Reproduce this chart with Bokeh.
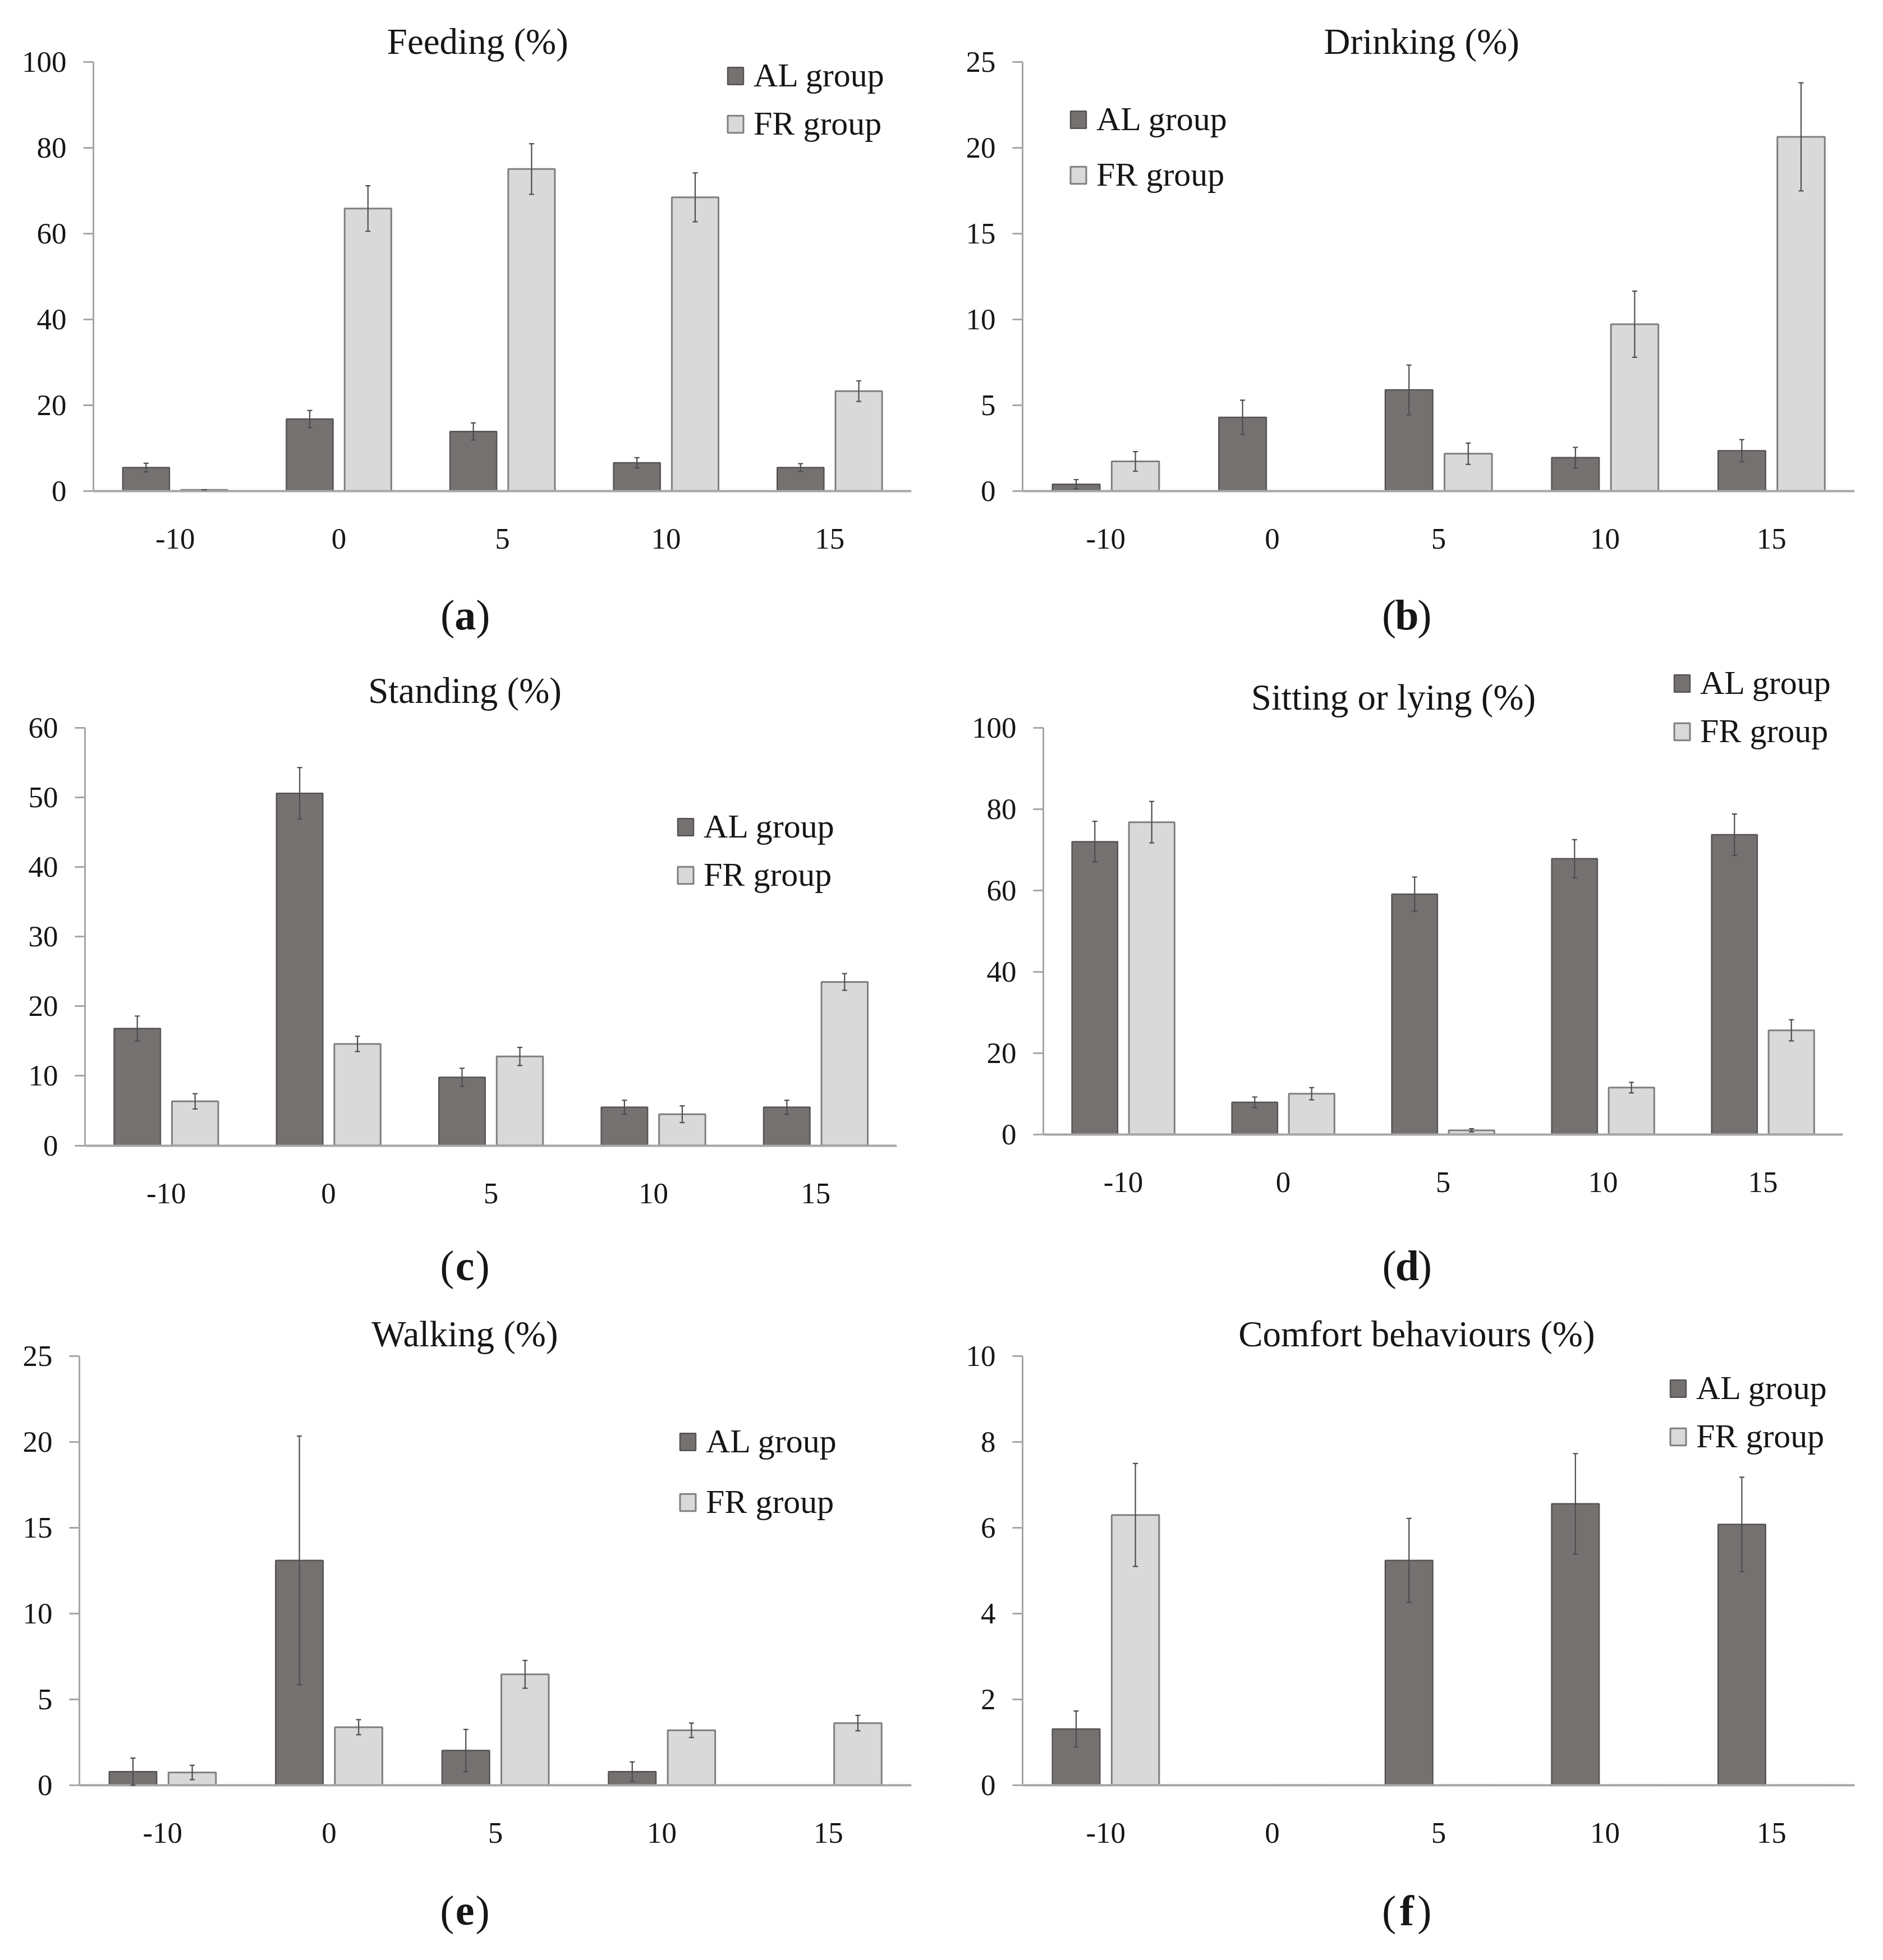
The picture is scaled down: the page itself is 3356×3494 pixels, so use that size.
from bokeh.plotting import figure
from bokeh.models import (FactorRange, ColumnDataSource, Whisker, TeeHead, Legend,
                          LegendItem, Label, FixedTicker, Range1d)
from bokeh.transform import dodge
from bokeh.layouts import column, row
from bokeh.embed import file_html
from bokeh.resources import INLINE

# ---------------- data ----------------
days = ["-10", "0", "5", "10", "15"]
groups = ["AL group", "FR group"]

feeding_al = [5.5, 16.8, 13.9, 6.6, 5.5]
feeding_al_err = [1.0, 2.0, 2.0, 1.2, 0.9]
feeding_fr = [0.3, 65.9, 75.1, 68.5, 23.3]
feeding_fr_err = [0.0, 5.3, 5.9, 5.7, 2.4]

drinking_al = [0.4, 4.3, 5.9, 1.95, 2.35]
drinking_al_err = [0.27, 1.0, 1.45, 0.6, 0.65]
drinking_fr = [1.73, 0.0, 2.18, 9.73, 20.65]
drinking_fr_err = [0.57, 0.0, 0.62, 1.93, 3.15]

standing_al = [16.8, 50.6, 9.8, 5.5, 5.5]
standing_al_err = [1.8, 3.7, 1.3, 1.0, 1.0]
standing_fr = [6.35, 14.6, 12.8, 4.5, 23.5]
standing_fr_err = [1.1, 1.1, 1.3, 1.2, 1.2]

sitting_al = [72.0, 7.9, 59.1, 67.8, 73.7]
sitting_al_err = [5.0, 1.3, 4.2, 4.7, 5.1]
sitting_fr = [76.8, 10.0, 1.0, 11.5, 25.6]
sitting_fr_err = [5.1, 1.5, 0.4, 1.3, 2.6]

walking_al = [0.79, 13.1, 2.02, 0.79, 0.0]
walking_al_err = [0.79, 7.25, 1.23, 0.57, 0.0]
walking_fr = [0.74, 3.38, 6.46, 3.2, 3.62]
walking_fr_err = [0.42, 0.44, 0.81, 0.42, 0.45]

comfort_al = [1.31, 0.0, 5.24, 6.56, 6.08]
comfort_al_err = [0.42, 0.0, 0.98, 1.17, 1.1]
comfort_fr = [6.3, 0.0, 0.0, 0.0, 0.0]
comfort_fr_err = [1.2, 0.0, 0.0, 0.0, 0.0]

titles = ["Feeding (%)", "Drinking (%)", "Standing (%)", "Sitting or lying (%)",
          "Walking (%)", "Comfort behaviours (%)"]
panel_letters = ["a", "b", "c", "d", "e", "f"]
y_max = [100, 25, 60, 100, 25, 10]
y_step = [20, 5, 10, 20, 5, 2]

# ---------------- styling / layout ----------------
S = 2.209
FONT = "Liberation Serif"
AL_FILL, AL_LINE = "#767171", "#575353"
FR_FILL, FR_LINE = "#d9d9d9", "#7f7f7f"
AXIS_COL = "#a6a6a6"
ERR_COL = "#4d4d4d"
TXT = "#161616"

# geometry in reference-scale units (relative to the cell)
geo = [
    dict(cw=756, ch=525, left=75, right=735, top=50, zero=396, tx=385, ty=33, lx=375, ly=496,
         legx=585, leg1=61, leg2=100),
    dict(cw=756, ch=525, left=69, right=740, top=50, zero=396, tx=391, ty=33, lx=379, ly=496,
         legx=106, leg1=96, leg2=141),
    dict(cw=756, ch=525, left=68.5, right=723.5, top=62, zero=399, tx=375, ty=32, lx=375, ly=496,
         legx=545, leg1=142, leg2=181),
    dict(cw=756, ch=525, left=85.5, right=730.5, top=62, zero=390, tx=368, ty=37, lx=379, ly=496,
         legx=593, leg1=26, leg2=65),
    dict(cw=756, ch=524, left=64, right=735, top=44, zero=390, tx=375, ty=26, lx=375, ly=491,
         legx=547, leg1=113, leg2=162),
    dict(cw=756, ch=524, left=69, right=740, top=44, zero=390, tx=387, ty=26, lx=379, ly=491,
         legx=590, leg1=70, leg2=109),
]

series = [
    (feeding_al, feeding_al_err, feeding_fr, feeding_fr_err),
    (drinking_al, drinking_al_err, drinking_fr, drinking_fr_err),
    (standing_al, standing_al_err, standing_fr, standing_fr_err),
    (sitting_al, sitting_al_err, sitting_fr, sitting_fr_err),
    (walking_al, walking_al_err, walking_fr, walking_fr_err),
    (comfort_al, comfort_al_err, comfort_fr, comfort_fr_err),
]

LEG_ITEM_H = 69
OFF = 0.178
BW = 0.285
NAN = float("nan")


def lo_hi(vals, errs):
    lo = [v - e if (v > 0 or e > 0) else NAN for v, e in zip(vals, errs)]
    hi = [v + e if (v > 0 or e > 0) else NAN for v, e in zip(vals, errs)]
    return lo, hi


def make_panel(i):
    g = geo[i]
    al, al_e, fr, fr_e = series[i]
    W = round(g["cw"] * S)
    H = round(g["ch"] * S)
    fl = round(g["left"] * S)
    frr = round(g["right"] * S)
    ymax = y_max[i]
    span = g["zero"] - g["top"]
    y_end = ymax * g["zero"] / span
    y_lo = -ymax * (g["ch"] - g["zero"]) / span

    p = figure(x_range=FactorRange(factors=days, range_padding=0),
               y_range=Range1d(y_lo, y_end),
               frame_width=frr - fl, frame_height=H,
               min_border_left=fl, min_border_right=W - frr,
               min_border_top=0, min_border_bottom=0,
               output_backend="svg", toolbar_location=None)
    p.outline_line_color = None
    p.xgrid.visible = False
    p.ygrid.visible = False
    p.background_fill_color = "white"
    p.border_fill_color = "white"

    al_lo, al_hi = lo_hi(al, al_e)
    fr_lo, fr_hi = lo_hi(fr, fr_e)
    src = ColumnDataSource(dict(x=days, al=al, fr=fr, al_lo=al_lo, al_hi=al_hi,
                                fr_lo=fr_lo, fr_hi=fr_hi))

    r_al = p.vbar(x=dodge("x", -OFF, range=p.x_range), top="al", width=BW, source=src,
                  fill_color=AL_FILL, line_color=AL_LINE, line_width=2.5)
    r_fr = p.vbar(x=dodge("x", OFF, range=p.x_range), top="fr", width=BW, source=src,
                  fill_color=FR_FILL, line_color=FR_LINE, line_width=3)

    for off, lo, hi in ((-OFF, "al_lo", "al_hi"), (OFF, "fr_lo", "fr_hi")):
        w = Whisker(base=dodge("x", off, range=p.x_range), lower=lo, upper=hi, source=src,
                    line_color=ERR_COL, line_width=2.2, level="overlay",
                    upper_head=TeeHead(size=9, line_color=ERR_COL, line_width=2.2),
                    lower_head=TeeHead(size=9, line_color=ERR_COL, line_width=2.2))
        p.add_layout(w)

    # y axis
    yax = p.yaxis[0]
    yax.ticker = FixedTicker(ticks=list(range(0, ymax + 1, y_step[i])))
    yax.bounds = (0, ymax)
    yax.axis_line_color = AXIS_COL
    yax.axis_line_width = 3
    yax.major_tick_line_color = AXIS_COL
    yax.major_tick_line_width = 3
    yax.major_tick_out = 18
    yax.major_tick_in = 0
    yax.minor_tick_line_color = None
    yax.major_label_text_font = FONT
    yax.major_label_text_font_size = "53px"
    yax.major_label_text_color = TXT
    yax.major_label_standoff = 30

    # x axis, drawn at value 0
    xax = p.xaxis[0]
    xax.fixed_location = 0
    xax.axis_line_color = AXIS_COL
    xax.axis_line_width = 4
    xax.major_tick_line_color = None
    xax.minor_tick_line_color = None
    xax.major_label_text_font = FONT
    xax.major_label_text_font_size = "53px"
    xax.major_label_text_color = TXT
    xax.major_label_standoff = 62

    # title
    p.add_layout(Label(x=(g["tx"] - g["left"]) * S, y=(g["ch"] - g["ty"]) * S,
                       x_units="screen", y_units="screen", text=titles[i],
                       text_align="center", text_baseline="middle",
                       text_font=FONT, text_font_size="65px", text_color=TXT))
    # panel letter: "(" regular, letter bold, ")" regular
    cx = (g["lx"] - g["left"]) * S
    cy = (g["ch"] - g["ly"]) * S
    fs = 76
    half = 0.25 * fs
    for txt, xx, align, style in (("(", cx - half, "right", "normal"),
                                  (panel_letters[i], cx, "center", "bold"),
                                  (")", cx + half, "left", "normal")):
        p.add_layout(Label(x=xx, y=cy, x_units="screen", y_units="screen", text=txt,
                           text_align=align, text_baseline="middle",
                           text_font=FONT, text_font_size=f"{fs}px", text_font_style=style,
                           text_color=TXT))

    # legend
    gap = (g["leg2"] - g["leg1"]) * S
    spacing = max(0, round(gap - LEG_ITEM_H))
    bottom_of_legend = g["leg2"] * S + LEG_ITEM_H / 2
    lx = round((g["legx"] - g["left"]) * S)
    ly = round(H - bottom_of_legend)
    legend = Legend(items=[LegendItem(label=groups[0], renderers=[r_al]),
                           LegendItem(label=groups[1], renderers=[r_fr])],
                    location=(lx, ly), orientation="vertical",
                    glyph_width=35, glyph_height=38, label_standoff=15,
                    spacing=spacing, padding=0, margin=0,
                    border_line_alpha=0, background_fill_alpha=0,
                    label_text_font=FONT, label_text_font_size="60px",
                    label_text_color=TXT, label_text_baseline="middle")
    p.add_layout(legend)
    return p


figs = [make_panel(i) for i in range(6)]
layout = column(row(figs[0], figs[1], spacing=0), row(figs[2], figs[3], spacing=0),
                row(figs[4], figs[5], spacing=0), spacing=0)

open("out.html", "w").write(file_html(layout, INLINE))
